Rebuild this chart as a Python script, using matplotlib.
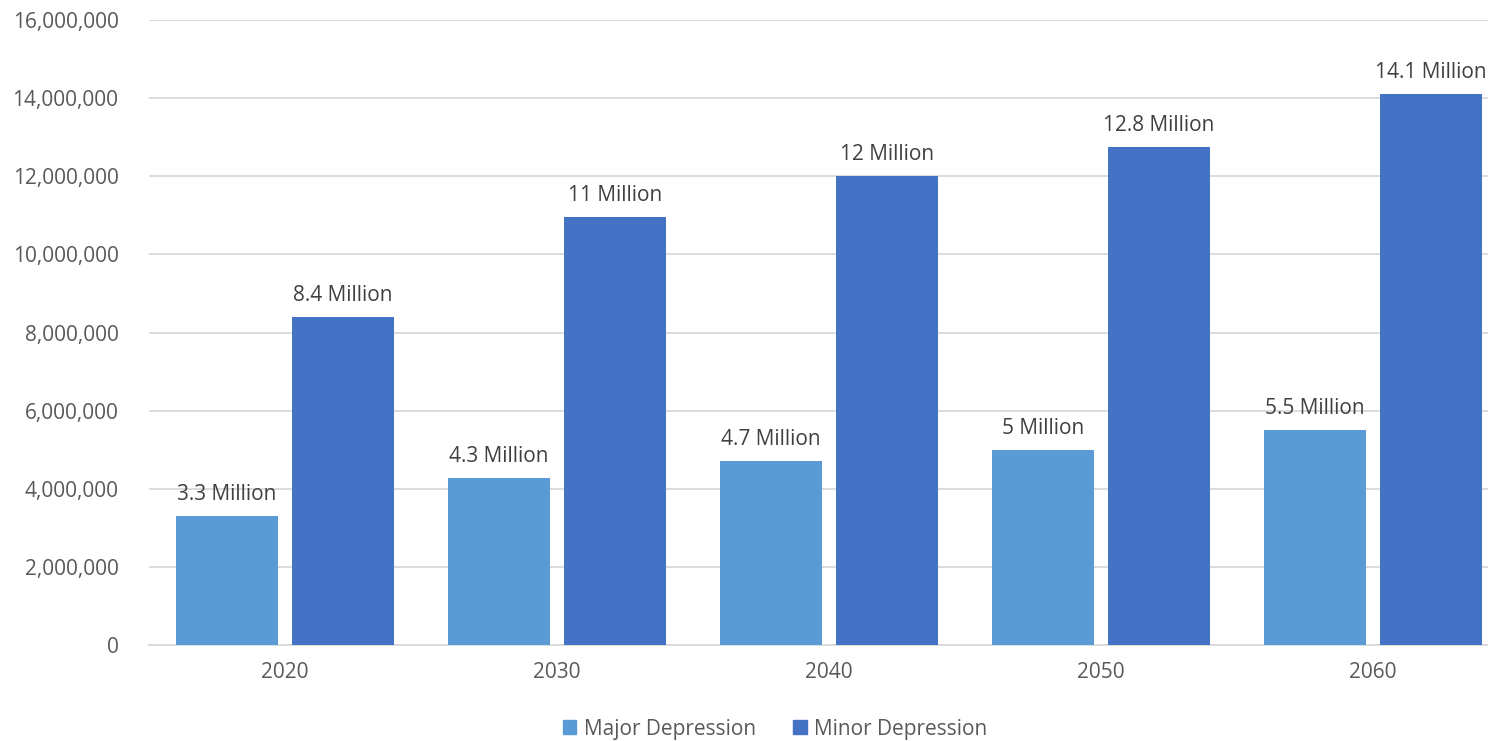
import matplotlib
matplotlib.use("Agg")
import matplotlib.pyplot as plt
from matplotlib.ticker import FuncFormatter
from matplotlib.patches import Patch
import numpy as np

plt.rcParams['font.family'] = ['Open Sans', 'DejaVu Sans']

years = ["2020", "2030", "2040", "2050", "2060"]
major = [3.3e6, 4.27e6, 4.7e6, 4.98e6, 5.5e6]
minor = [8.4e6, 10.96e6, 12.0e6, 12.75e6, 14.1e6]
major_labels = ["3.3 Million", "4.3 Million", "4.7 Million", "5 Million", "5.5 Million"]
minor_labels = ["8.4 Million", "11 Million", "12 Million", "12.8 Million", "14.1 Million"]
yticks = [0, 2e6, 4e6, 6e6, 8e6, 10e6, 12e6, 14e6, 16e6]

W, H = 1488, 741
fig = plt.figure(figsize=(W/100, H/100), dpi=100)
ax = fig.add_axes([149/W, 1-645/H, 1-149/W, (645-20)/H])

x = np.arange(len(years))
bw = 0.375
off = 0.213
c_major = "#5B9BD5"
c_minor = "#4472C4"
ax.bar(x - off, major, bw, color=c_major, zorder=3)
ax.bar(x + off, minor, bw, color=c_minor, zorder=3)

txt = "#404040"
fs = 15
for xi, v, lab in zip(x - off, major, major_labels):
    ax.annotate(lab, (xi, v), xytext=(0, 11), textcoords="offset pixels",
                ha="center", va="bottom", fontsize=fs, color=txt)
for xi, v, lab in zip(x + off, minor, minor_labels):
    ax.annotate(lab, (xi, v), xytext=(0, 11), textcoords="offset pixels",
                ha="center", va="bottom", fontsize=fs, color=txt, annotation_clip=False)

ax.set_xlim(-0.5, (1488-285)/272)
ax.set_ylim(0, 16e6)
ax.set_yticks(yticks)
ax.yaxis.set_major_formatter(FuncFormatter(lambda v, p: f"{int(v):,}"))
ax.set_xticks(x)
ax.set_xticklabels(years)
ax.tick_params(axis='both', length=0, labelsize=fs, labelcolor="#595959")
ax.tick_params(axis='y', pad=22)
ax.tick_params(axis='x', pad=12)
ax.grid(axis='y', color="#D9D9D9", linewidth=1.3, zorder=0)
for s in ["top", "right", "left"]:
    ax.spines[s].set_visible(False)
ax.spines["bottom"].set_color("#D9D9D9")
ax.spines["bottom"].set_linewidth(1.3)

handles = [Patch(color=c_major, label="Major Depression"),
           Patch(color=c_minor, label="Minor Depression")]
fig.legend(handles=handles, loc="center", bbox_to_anchor=(775/W, 1-729/H), ncol=2,
           frameon=False, fontsize=fs, labelcolor="#595959",
           handlelength=0.65, handleheight=0.65, handletextpad=0.35, columnspacing=1.8)

fig.savefig("out.png", dpi=100)
